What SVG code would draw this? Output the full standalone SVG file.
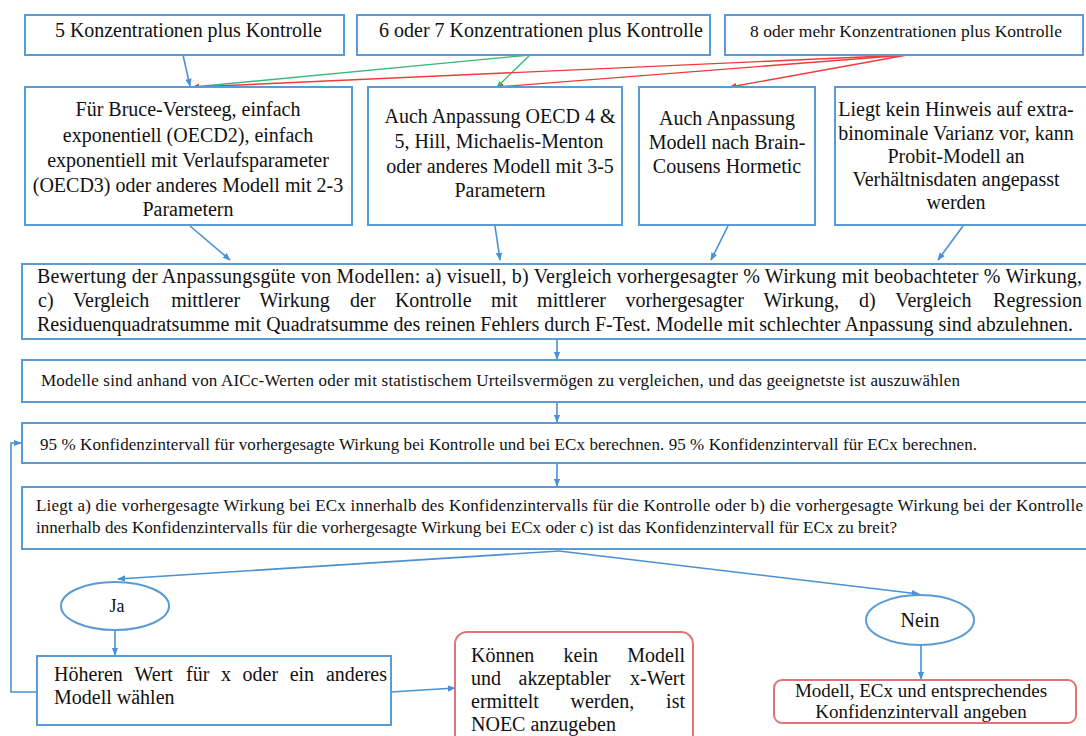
<svg xmlns="http://www.w3.org/2000/svg" width="1086" height="736" viewBox="0 0 1086 736">
<style>
.box{fill:#fff;stroke:#5b9bd5;stroke-width:2}
.rbox{fill:#fff;stroke:#e07373;stroke-width:2}
.t{font-family:'Liberation Serif',Tinos,'Times New Roman','DejaVu Serif',serif;fill:#111}
.c{text-anchor:middle}
.s20{font-size:20px}
.s17{font-size:17px}
.bl{fill:none;stroke:#4a90d6;stroke-width:1.6}
.rd{fill:none;stroke:#f03a3a;stroke-width:1.4}
.gr{fill:none;stroke:#3cb878;stroke-width:1.4}
</style>
<defs>
<marker id="ab" viewBox="0 0 10 10" refX="9" refY="5" markerWidth="5" markerHeight="5" orient="auto"><path d="M0,1 L10,5 L0,9 z" fill="#4a90d6"/></marker>
<marker id="ar" viewBox="0 0 10 10" refX="9" refY="5" markerWidth="5" markerHeight="5" orient="auto"><path d="M0,1 L10,5 L0,9 z" fill="#f03a3a"/></marker>
<marker id="ag" viewBox="0 0 10 10" refX="9" refY="5" markerWidth="5" markerHeight="5" orient="auto"><path d="M0,1 L10,5 L0,9 z" fill="#3cb878"/></marker>
</defs>

<g id="connectors">
<line class="bl" x1="183" y1="55" x2="190" y2="86" marker-end="url(#ab)"/>
<line class="gr" x1="530" y1="55" x2="193" y2="87" marker-end="url(#ag)"/>
<line class="gr" x1="530" y1="55" x2="497" y2="87" marker-end="url(#ag)"/>
<line class="rd" x1="907" y1="55" x2="193" y2="87" marker-end="url(#ar)"/>
<line class="rd" x1="907" y1="55" x2="497" y2="87" marker-end="url(#ar)"/>
<line class="rd" x1="907" y1="55" x2="730" y2="87" marker-end="url(#ar)"/>
<line class="bl" x1="190" y1="226" x2="230" y2="260" marker-end="url(#ab)"/>
<line class="bl" x1="495" y1="226" x2="500" y2="260" marker-end="url(#ab)"/>
<line class="bl" x1="728" y1="226" x2="711" y2="260" marker-end="url(#ab)"/>
<line class="bl" x1="963" y1="226" x2="938" y2="260" marker-end="url(#ab)"/>
<line class="bl" x1="557" y1="340" x2="557" y2="359" marker-end="url(#ab)"/>
<line class="bl" x1="557" y1="403" x2="557" y2="422" marker-end="url(#ab)"/>
<line class="bl" x1="557" y1="464" x2="557" y2="486" marker-end="url(#ab)"/>
<line class="bl" x1="559" y1="551" x2="118" y2="579" marker-end="url(#ab)"/>
<line class="bl" x1="559" y1="551" x2="919" y2="594" marker-end="url(#ab)"/>
<line class="bl" x1="115" y1="631" x2="115" y2="655" marker-end="url(#ab)"/>
<line class="bl" x1="921" y1="645" x2="921" y2="679" marker-end="url(#ab)"/>
<line class="bl" x1="391" y1="692" x2="455" y2="688" marker-end="url(#ab)"/>
<polyline class="bl" points="37,692 11,692 11,443 21,443" marker-end="url(#ab)"/>
</g>

<g id="n1"><rect class="box" x="25" y="15" width="319" height="40"/><text class="t s20" x="55" y="37" textLength="267" lengthAdjust="spacing">5 Konzentrationen plus Kontrolle</text></g>
<g id="n2"><rect class="box" x="357" y="15" width="353" height="40"/><text class="t s20" x="379" y="37" textLength="324" lengthAdjust="spacing">6 oder 7 Konzentrationen plus Kontrolle</text></g>
<g id="n3"><rect class="box" x="725" y="15" width="358" height="40"/><text class="t" style="font-size:17.5px" x="750" y="37" textLength="312" lengthAdjust="spacing">8 oder mehr Konzentrationen plus Kontrolle</text></g>

<g id="n4"><rect class="box" x="25" y="87" width="327" height="138"/>
<text class="t s20 c" x="188"><tspan x="188" y="116">Für Bruce-Versteeg, einfach</tspan><tspan x="188" y="142">exponentiell (OECD2), einfach</tspan><tspan x="188" y="167">exponentiell mit Verlaufsparameter</tspan><tspan x="188" y="192">(OECD3) oder anderes Modell mit 2-3</tspan><tspan x="188" y="216">Parametern</tspan></text></g>
<g id="n5"><rect class="box" x="368" y="87" width="254" height="138"/>
<text class="t s20 c" x="500"><tspan x="500" y="123">Auch Anpassung OECD 4 &amp;</tspan><tspan x="499" y="148">5, Hill, Michaelis-Menton</tspan><tspan x="500" y="173">oder anderes Modell mit 3-5</tspan><tspan x="500" y="197">Parametern</tspan></text></g>
<g id="n6"><rect class="box" x="639" y="87" width="176" height="138"/>
<text class="t s20 c" x="727"><tspan x="727" y="125">Auch Anpassung</tspan><tspan x="727" y="149">Modell nach Brain-</tspan><tspan x="727" y="173">Cousens Hormetic</tspan></text></g>
<g id="n7"><rect class="box" x="835" y="87" width="260" height="138"/>
<text class="t s20 c" x="956"><tspan x="956" y="116">Liegt kein Hinweis auf extra-</tspan><tspan x="956" y="140">binominale Varianz vor, kann</tspan><tspan x="956" y="163">Probit-Modell an</tspan><tspan x="956" y="186">Verhältnisdaten angepasst</tspan><tspan x="956" y="209">werden</tspan></text></g>

<g id="n8"><rect class="box" x="22" y="264" width="1073" height="75"/>
<text class="t s20" x="37" y="283" textLength="1045" lengthAdjust="spacing">Bewertung der Anpassungsgüte von Modellen: a) visuell, b) Vergleich vorhergesagter % Wirkung mit beobachteter % Wirkung,</text>
<text class="t s20" y="307"><tspan x="38">c)</tspan> <tspan x="72.9">Vergleich</tspan> <tspan x="171.2">mittlerer</tspan> <tspan x="259.5">Wirkung</tspan> <tspan x="350">der</tspan> <tspan x="394.9">Kontrolle</tspan> <tspan x="491">mit</tspan> <tspan x="537.1">mittlerer</tspan> <tspan x="625.4">vorhergesagter</tspan> <tspan x="763.6">Wirkung,</tspan> <tspan x="859.1">d)</tspan> <tspan x="895.2">Vergleich</tspan> <tspan x="1082" text-anchor="end">Regression</tspan></text>
<text class="t s20" x="37" y="331" textLength="1036" lengthAdjust="spacing">Residuenquadratsumme mit Quadratsumme des reinen Fehlers durch F-Test. Modelle mit schlechter Anpassung sind abzulehnen.</text></g>

<g id="n9"><rect class="box" x="22" y="360" width="1073" height="42"/>
<text class="t s17" x="41" y="386" textLength="919" lengthAdjust="spacing">Modelle sind anhand von AICc-Werten oder mit statistischem Urteilsvermögen zu vergleichen, und das geeignetste ist auszuwählen</text></g>

<g id="n10"><rect class="box" x="22" y="423" width="1073" height="40"/>
<text class="t s17" x="40" y="450" textLength="937" lengthAdjust="spacing">95 % Konfidenzintervall für vorhergesagte Wirkung bei Kontrolle und bei ECx berechnen. 95 % Konfidenzintervall für ECx berechnen.</text></g>

<g id="n11"><rect class="box" x="22" y="487" width="1073" height="62"/>
<text class="t s17" x="36" y="511" textLength="1047" lengthAdjust="spacing">Liegt a) die vorhergesagte Wirkung bei ECx innerhalb des Konfidenzintervalls für die Kontrolle oder b) die vorhergesagte Wirkung bei der Kontrolle</text>
<text class="t s17" x="36" y="533" textLength="861" lengthAdjust="spacing">innerhalb des Konfidenzintervalls für die vorhergesagte Wirkung bei ECx oder c) ist das Konfidenzintervall für ECx zu breit?</text></g>

<g id="n12"><ellipse class="box" cx="115" cy="606" rx="54" ry="24"/><text class="t c" style="font-size:18px" x="117" y="612">Ja</text></g>
<g id="n13"><ellipse class="box" cx="920" cy="620" rx="54" ry="25"/><text class="t c s20" x="920" y="627">Nein</text></g>

<g id="n14"><rect class="box" x="37" y="656" width="354" height="69"/>
<text class="t s20" y="681"><tspan x="54">Höheren</tspan> <tspan x="134.5">Wert</tspan> <tspan x="186.1">für</tspan> <tspan x="221">x</tspan> <tspan x="242.6">oder</tspan> <tspan x="289.7">ein</tspan> <tspan x="387" text-anchor="end">anderes</tspan></text>
<text class="t s20" x="54" y="704">Modell wählen</text></g>

<g id="n15"><rect class="rbox" x="455" y="632" width="238" height="115" rx="12"/>
<text class="t s20" y="662"><tspan x="471">Können</tspan> <tspan x="563.6">kein</tspan> <tspan x="685" text-anchor="end">Modell</tspan></text>
<text class="t s20" y="685"><tspan x="471">und</tspan> <tspan x="518.6">akzeptabler</tspan> <tspan x="685" text-anchor="end">x-Wert</tspan></text>
<text class="t s20" y="708"><tspan x="471">ermittelt</tspan> <tspan x="570.5">werden,</tspan> <tspan x="685" text-anchor="end">ist</tspan></text>
<text class="t s20" x="471" y="731">NOEC anzugeben</text></g>

<g id="n16"><rect class="rbox" x="774" y="680" width="302" height="43" rx="8"/>
<text class="t c" style="font-size:19px" x="921" y="697">Modell, ECx und entsprechendes</text>
<text class="t c" style="font-size:19px" x="921" y="718">Konfidenzintervall angeben</text></g>
</svg>
